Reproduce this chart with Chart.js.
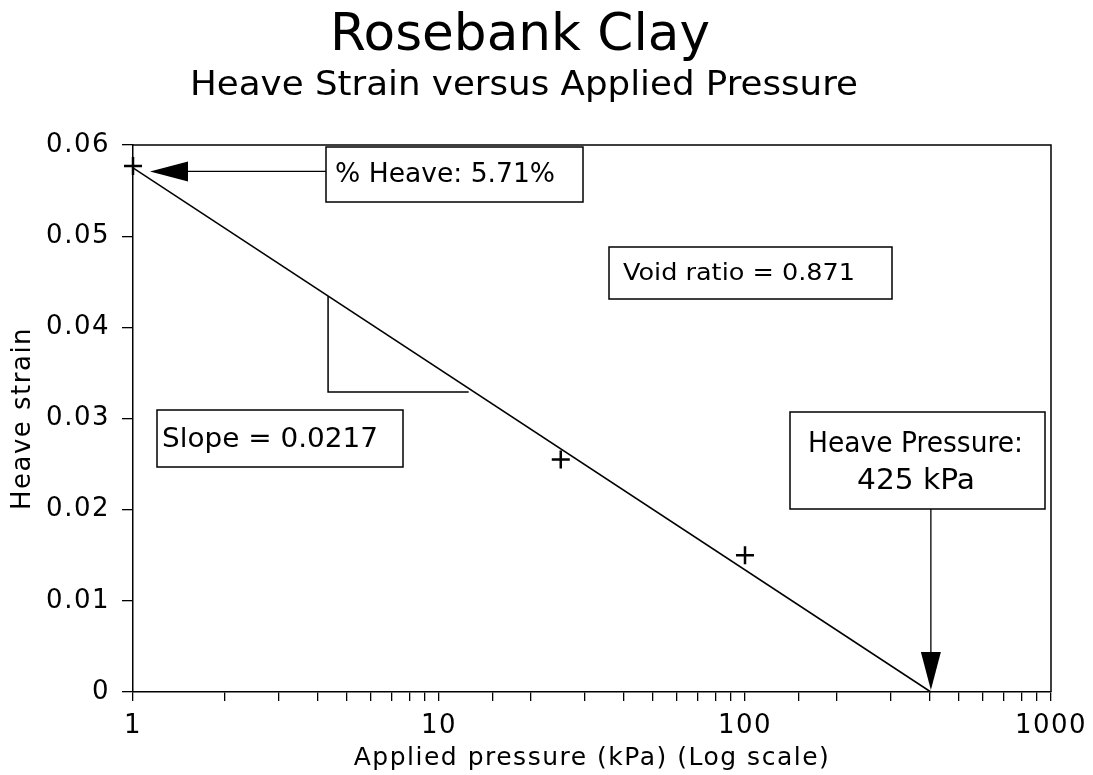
<!DOCTYPE html>
<html>
<head>
<meta charset="utf-8">
<script src="https://cdn.jsdelivr.net/npm/chart.js@4.4.1/dist/chart.umd.min.js"></script>
<style>
  html, body { margin: 0; padding: 0; background: #fff; }
  #wrap { width: 1093px; height: 775px; }
</style>
</head>
<body>
<div id="wrap"><canvas id="c" width="1093" height="775"></canvas></div>
<script>
// ---- data ----
const measuredPressure = [1, 25, 100];          // kPa
const measuredStrain   = [0.0577, 0.0255, 0.0150];
const fitPressure      = [1, 405];              // fitted line end points (kPa)
const fitStrain        = [0.0575, 0];
const slopeTriPressure = [4.34, 4.34, 12.5];    // slope triangle construction
const slopeTriStrain   = [0.0434, 0.0329, 0.0329];
const xTickLabels      = [1, 10, 100, 1000];
const yTickLabels      = ['0', '0.01', '0.02', '0.03', '0.04', '0.05', '0.06'];
const heaveStrainPct   = 0.0571;                // 5.71 %

const FONT = '"DejaVu Sans", "Liberation Sans", sans-serif';
Chart.defaults.font.family = FONT;
Chart.defaults.color = '#000';

function pts(xs, ys) { return xs.map((x, i) => ({ x: x, y: ys[i] })); }

// ---- annotation layout (canvas pixels) ----
const titleTexts = [
  { t: 'Rosebank Clay', x0: 330, x1: 710, base: 50, cap: 37 },
  { t: 'Heave Strain versus Applied Pressure', x0: 190, x1: 858, base: 95, cap: 25 }
];
const boxes = [
  { r: [326, 147, 583, 202], lines: [{ t: '% Heave: 5.71%', x0: 335, x1: 555, base: 182, cap: 20 }] },
  { r: [609, 247, 892, 299], lines: [{ t: 'Void ratio = 0.871', x0: 623, x1: 855, base: 280, cap: 17 }] },
  { r: [157, 410, 403, 467], lines: [{ t: 'Slope = 0.0217', x0: 162, x1: 378, base: 447, cap: 20 }] },
  { r: [790, 412, 1045, 509], lines: [
      { t: 'Heave Pressure:', x0: 808, x1: 1023, base: 452, cap: 21 },
      { t: '425 kPa', x0: 857, x1: 975, base: 489, cap: 21 }] }
];

function fitText(ctx, text, x0, x1, baseline, capH) {
  const size = capH / 0.729;
  ctx.save();
  ctx.letterSpacing = '0px';
  ctx.font = size + 'px ' + FONT;
  ctx.textAlign = 'left';
  ctx.textBaseline = 'alphabetic';
  ctx.fillStyle = '#000';
  const w = ctx.measureText(text).width;
  ctx.translate(x0, baseline);
  ctx.scale((x1 - x0) / w, 1);
  ctx.fillText(text, 0, 0);
  ctx.restore();
}

function arrowHead(ctx, tipX, tipY, dx, dy, len, half) {
  const bx = tipX - dx * len, by = tipY - dy * len;
  ctx.beginPath();
  ctx.moveTo(tipX, tipY);
  ctx.lineTo(bx - dy * half, by + dx * half);
  ctx.lineTo(bx + dy * half, by - dx * half);
  ctx.closePath();
  ctx.fill();
}

// wider lettering, like the plotter font of the original
const spacing = {
  id: 'spacing',
  beforeUpdate(chart) { chart.ctx.letterSpacing = '1.5px'; },
  beforeDraw(chart) { chart.ctx.letterSpacing = '1.5px'; }
};

const decor = {
  id: 'decor',
  afterDraw(chart) {
    const ctx = chart.ctx, a = chart.chartArea;
    const xs = chart.scales.x, ys = chart.scales.y;
    ctx.save();
    ctx.strokeStyle = '#000';
    ctx.fillStyle = '#000';
    ctx.lineWidth = 1.5;
    ctx.beginPath();
    ctx.moveTo(a.left, a.top); ctx.lineTo(a.right, a.top); ctx.lineTo(a.right, a.bottom);
    ctx.stroke();
    titleTexts.forEach(o => fitText(ctx, o.t, o.x0, o.x1, o.base, o.cap));
    boxes.forEach(b => {
      ctx.fillStyle = '#fff';
      ctx.fillRect(b.r[0], b.r[1], b.r[2] - b.r[0], b.r[3] - b.r[1]);
      ctx.fillStyle = '#000';
      ctx.lineWidth = 1.5;
      ctx.strokeRect(b.r[0], b.r[1], b.r[2] - b.r[0], b.r[3] - b.r[1]);
      b.lines.forEach(l => fitText(ctx, l.t, l.x0, l.x1, l.base, l.cap));
    });
    const hy = ys.getPixelForValue(heaveStrainPct);
    const hx = xs.getPixelForValue(measuredPressure[0]) + 17;
    ctx.lineWidth = 1.3;
    ctx.beginPath(); ctx.moveTo(boxes[0].r[0], hy); ctx.lineTo(hx + 30, hy); ctx.stroke();
    arrowHead(ctx, hx, hy, -1, 0, 38, 10);
    const px = xs.getPixelForValue(fitPressure[1]);
    const py = ys.getPixelForValue(0);
    ctx.beginPath(); ctx.moveTo(px, boxes[3].r[3]); ctx.lineTo(px, py - 30); ctx.stroke();
    arrowHead(ctx, px, py - 2, 0, 1, 38, 10);
    ctx.restore();
  }
};

new Chart(document.getElementById('c'), {
  type: 'scatter',
  data: {
    datasets: [
      { data: pts(fitPressure, fitStrain), showLine: true, borderColor: '#000', borderWidth: 1.5,
        pointRadius: 0, clip: false },
      { data: pts(slopeTriPressure, slopeTriStrain), showLine: true, borderColor: '#000', borderWidth: 1.5,
        pointRadius: 0, clip: false },
      { data: pts(measuredPressure, measuredStrain), showLine: false, pointStyle: 'cross',
        pointRadius: 9, borderColor: '#000', borderWidth: 2.5, clip: false }
    ]
  },
  options: {
    responsive: false,
    animation: false,
    devicePixelRatio: 1,
    layout: { padding: { top: 145, right: 42, left: 0, bottom: 0 } },
    plugins: { legend: { display: false }, tooltip: { enabled: false }, title: { display: false } },
    scales: {
      x: {
        type: 'logarithmic', min: 1, max: 1000,
        border: { display: true, color: '#000', width: 1.5 },
        grid: { display: true, drawOnChartArea: false, drawTicks: true, tickLength: 9, color: '#000', lineWidth: 1.3 },
        ticks: {
          autoSkip: false, maxRotation: 0, padding: 10, color: '#000',
          font: { size: 26, family: FONT },
          callback: (v) => {
            const i = xTickLabels.findIndex(t => Math.abs(t - v) < 1e-6 * t);
            return i >= 0 ? String(xTickLabels[i]) : '';
          }
        },
        title: { display: true, text: 'Applied pressure (kPa) (Log scale)', color: '#000',
          font: { size: 25, family: FONT }, padding: { top: 0, bottom: 2 } },
        afterFit: (s) => { s.height = 83; s.paddingLeft = 0; s.paddingRight = 0; }
      },
      y: {
        min: 0, max: 0.06,
        border: { display: true, color: '#000', width: 1.5 },
        grid: { display: true, drawOnChartArea: false, drawTicks: true, tickLength: 11, color: '#000', lineWidth: 1.3 },
        ticks: {
          stepSize: 0.01, padding: 12, color: '#000',
          font: { size: 26, family: FONT },
          callback: (v) => yTickLabels[Math.round(v / 0.01)]
        },
        title: { display: true, text: 'Heave strain', color: '#000',
          font: { size: 26, family: FONT }, padding: { top: 8, bottom: 0 } },
        afterFit: (s) => { s.width = 133; }
      }
    }
  },
  plugins: [spacing, decor]
});
</script>
</body>
</html>
